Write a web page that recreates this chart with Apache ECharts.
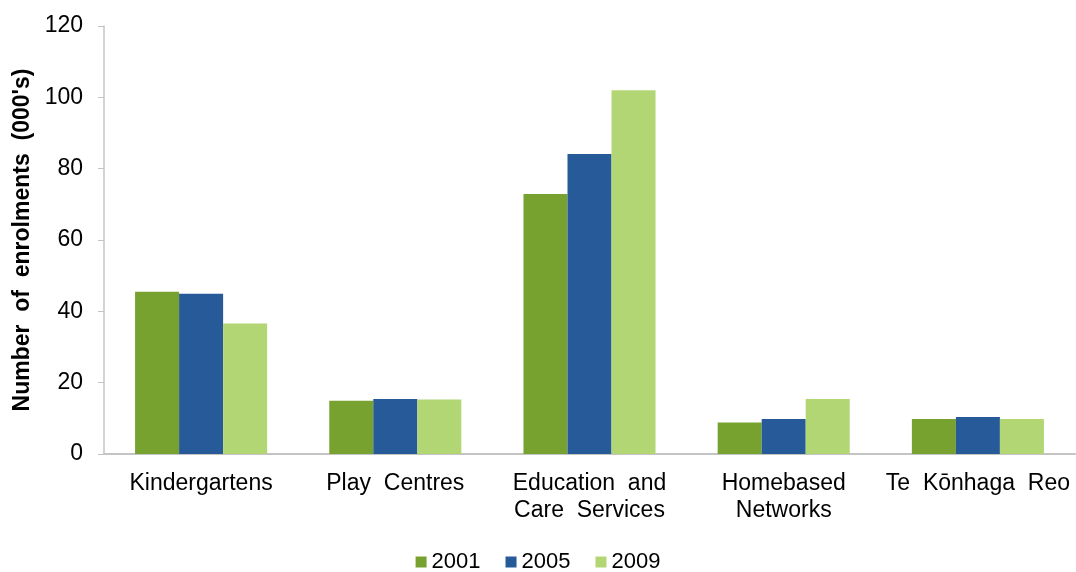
<!DOCTYPE html>
<html>
<head>
<meta charset="utf-8">
<script src="https://cdn.jsdelivr.net/npm/echarts@6/dist/echarts.min.js"></script>
<style>
html,body{margin:0;padding:0;background:#fff;}
#chart{width:1076px;height:572px;}
</style>
</head>
<body>
<div id="chart"></div>
<script>
const categories = ['Kindergartens', 'Play  Centres', 'Education  and\nCare  Services', 'Homebased\nNetworks', 'Te  Kōnhaga  Reo'];
const seriesNames = ['2001', '2005', '2009'];
const values2001 = [45.5, 14.9, 72.9, 8.8, 9.8];
const values2005 = [44.9, 15.4, 84.1, 9.8, 10.4];
const values2009 = [36.6, 15.3, 102.0, 15.4, 9.8];
const yTitle = 'Number  of  enrolments  (000\'s)';

const colors = ['#78A22F', '#265A99', '#B3D674'];
const font = "'Liberation Sans', Arial, sans-serif";
const chart = echarts.init(document.getElementById('chart'), null, {renderer: 'canvas'});
const allValues = [values2001, values2005, values2009];
chart.setOption({
  animation: false,
  color: colors,
  grid: {left: 104, right: 1, top: 26, bottom: 118, containLabel: false},
  legend: {
    top: 546,
    left: 'center',
    itemWidth: 11,
    itemHeight: 11,
    itemGap: 25,
    icon: 'rect',
    textStyle: {fontFamily: font, fontSize: 22, color: '#000'},
    data: seriesNames
  },
  xAxis: {
    type: 'category',
    data: categories,
    axisLine: {show: true, lineStyle: {color: '#C4C4C4', width: 2}},
    axisTick: {show: false},
    axisLabel: {fontFamily: font, fontSize: 23, color: '#000', margin: 16, lineHeight: 27, interval: 0}
  },
  yAxis: {
    type: 'value',
    min: 0,
    max: 120,
    interval: 20,
    name: yTitle,
    nameLocation: 'middle',
    nameGap: 70,
    nameTextStyle: {fontFamily: font, fontSize: 23, fontWeight: 'bold', color: '#000'},
    axisLine: {show: true, lineStyle: {color: '#C4C4C4', width: 1.5}},
    axisTick: {show: true, length: 6, lineStyle: {color: '#C4C4C4'}},
    splitLine: {show: false},
    axisLabel: {fontFamily: font, fontSize: 23, color: '#000', margin: 21}
  },
  series: seriesNames.map((n, i) => ({
    name: n,
    type: 'bar',
    data: allValues[i],
    barGap: '0%',
    barCategoryGap: '32%',
    itemStyle: {color: colors[i]}
  }))
});
</script>
</body>
</html>
